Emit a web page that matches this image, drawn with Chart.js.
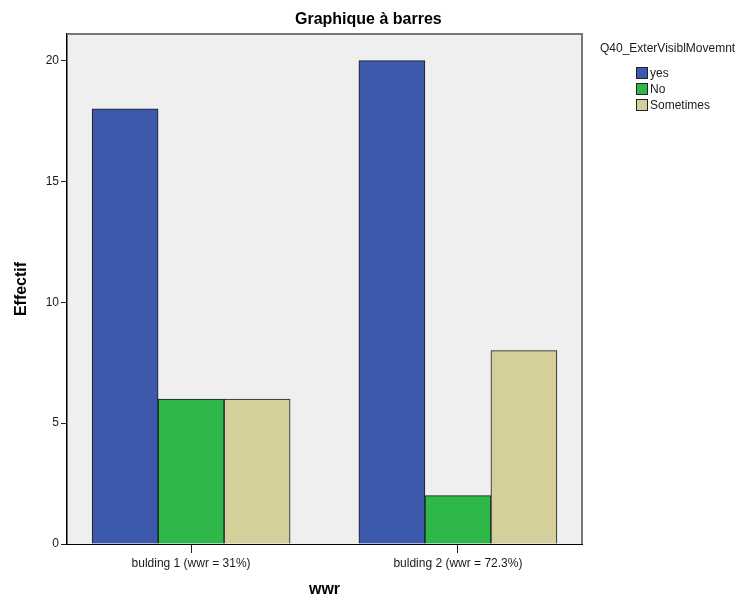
<!DOCTYPE html>
<html>
<head>
<meta charset="utf-8">
<script src="https://cdn.jsdelivr.net/npm/chart.js@4/dist/chart.umd.min.js"></script>
<style>
  html, body { margin:0; padding:0; background:#fff; }
  #wrap { width:753px; height:601px; position:relative; }
</style>
</head>
<body>
<div id="wrap"><canvas id="chart"></canvas></div>
<script>
// données
const categories = ['bulding 1 (wwr = 31%)', 'bulding 2 (wwr = 72.3%)'];
const seriesNames = ['yes', 'No', 'Sometimes'];
const seriesColors = ['#3d59ab', '#2eb84a', '#d4cf9b'];
const yesValues = [18, 20];
const noValues = [6, 2];
const sometimesValues = [6, 8];
const yTicks = [0, 5, 10, 15, 20];
const chartTitle = 'Graphique à barres';
const legendTitle = 'Q40_ExterVisiblMovemnt';

const FONT = '"Liberation Sans", Arial, sans-serif';

const toPoints = (vals) => vals.map((v, i) => ({ x: i, y: v }));
const allValues = [yesValues, noValues, sometimesValues];

// fond gris + cadre + titre + légende, dessinés à la main
const decor = {
  id: 'decor',
  beforeDraw(chart) {
    const { ctx, chartArea: a } = chart;
    ctx.save();
    ctx.fillStyle = '#efefef';
    ctx.fillRect(a.left, a.top, a.right - a.left, a.bottom - a.top);
    ctx.restore();
  },
  afterDraw(chart) {
    const { ctx, chartArea: a } = chart;
    ctx.save();
    ctx.strokeStyle = '#777';
    ctx.lineWidth = 2;
    ctx.beginPath();
    ctx.moveTo(a.left, a.top);
    ctx.lineTo(a.right, a.top);
    ctx.lineTo(a.right, a.bottom);
    ctx.stroke();

    ctx.fillStyle = '#000';
    ctx.font = 'bold 16px ' + FONT;
    ctx.textAlign = 'left';
    ctx.textBaseline = 'alphabetic';
    ctx.fillText(chartTitle, 295, 24);

    ctx.font = '12px ' + FONT;
    ctx.fillStyle = '#1a1a1a';
    ctx.fillText(legendTitle, 600, 52);
    chart.data.datasets.forEach((ds, i) => {
      const y = 67 + i * 16;
      ctx.fillStyle = ds.backgroundColor;
      ctx.fillRect(636, y, 11, 11);
      ctx.strokeStyle = '#222';
      ctx.lineWidth = 1;
      ctx.strokeRect(636.5, y + 0.5, 11, 11);
      ctx.fillStyle = '#1a1a1a';
      ctx.fillText(ds.label, 650, y + 10);
    });
    ctx.restore();
  }
};

new Chart(document.getElementById('chart'), {
  type: 'bar',
  data: {
    datasets: seriesNames.map((name, i) => ({
      label: name,
      data: toPoints(allValues[i]),
      backgroundColor: seriesColors[i],
      borderColor: '#1a1a1a',
      borderWidth: 1,
      barThickness: 66
    }))
  },
  options: {
    responsive: true,
    maintainAspectRatio: false,
    animation: false,
    layout: { padding: { top: 34, right: 171, left: 0, bottom: 0 } },
    plugins: {
      legend: { display: false },
      tooltip: { enabled: false },
      title: { display: false }
    },
    scales: {
      x: {
        type: 'linear',
        offset: false,
        min: -0.465,
        max: 1.465,
        afterFit: (s) => { s.height = 57; },
        afterBuildTicks: (s) => { s.ticks = categories.map((c, i) => ({ value: i })); },
        grid: { display: true, drawOnChartArea: false, offset: false, tickLength: 9, color: '#222' },
        border: { display: true, color: '#000', width: 1 },
        ticks: {
          callback: (v) => categories[v] ?? '',
          font: { family: FONT, size: 12 },
          color: '#1a1a1a',
          padding: 3,
          maxRotation: 0
        },
        title: {
          display: true,
          text: 'wwr',
          font: { family: FONT, size: 16, weight: 'bold' },
          color: '#000',
          padding: { top: 0, bottom: 2 }
        }
      },
      y: {
        min: 0,
        max: 21.1,
        afterFit: (s) => { s.width = 67; },
        afterBuildTicks: (s) => { s.ticks = yTicks.map(v => ({ value: v })); },
        grid: { display: true, drawOnChartArea: false, tickLength: 6, color: '#222' },
        border: { display: true, color: '#000', width: 1.5 },
        ticks: {
          font: { family: FONT, size: 12 },
          color: '#1a1a1a',
          padding: 2
        },
        title: {
          display: true,
          text: 'Effectif',
          font: { family: FONT, size: 16, weight: 'bold' },
          color: '#000',
          padding: { top: 12, bottom: 4 }
        }
      }
    }
  },
  plugins: [decor]
});
</script>
</body>
</html>
